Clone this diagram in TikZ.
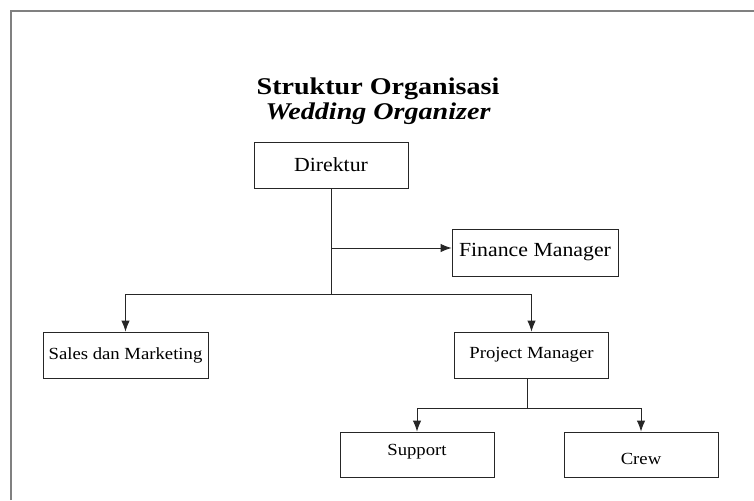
\documentclass[tikz,border=0pt]{standalone}
\usepackage{fontspec}
\setmainfont{Liberation Serif}
\usetikzlibrary{arrows.meta}
\tikzset{
  box/.style={draw=black!85, line width=0.8pt, inner sep=0pt, minimum width=154pt, minimum height=46pt, font=\fontsize{17}{19}\selectfont},
  big/.style={font=\fontsize{20}{22}\selectfont},
  every label/.style={font=\fontsize{17}{19}\selectfont, inner sep=0pt},
  link/.style={draw=black!85, line width=0.9pt},
  arr/.style={link, -{Latex[length=11pt,width=8.5pt]}}
}
\newcommand{\wide}[1]{\scalebox{1.1}[1]{#1}}

\begin{document}
\begin{tikzpicture}[x=1pt,y=-1pt]
\useasboundingbox (0,0) rectangle (754,500);
% frame
\draw[gray, line width=1.6pt] (11,500) -- (11,11) -- (754,11);
% title
\node[align=center, font=\fontsize{24}{25}\selectfont\bfseries] (title) at (378,101) {\scalebox{1.17}[1]{Struktur Organisasi}\\ \scalebox{1.17}[1]{\itshape Wedding Organizer}};
% boxes
\node[box, big] (dir) at (331,165) {\scalebox{1.09}[1]{Direktur}};
\node[box, big, minimum width=166pt, minimum height=47pt] (fin) at (535,252.5) {\scalebox{1.09}[1]{Finance Manager}};
\node[box, minimum width=165pt] (sales) at (125.5,355) {\wide{Sales dan Marketing}};
\node[box] (pm) at (531.5,355) {\wide{Project Manager}};
\node[box, minimum height=45pt, label={[yshift=2.5pt]center:\wide{Support}}] (sup) at (417,454.5) {};
\node[box, minimum height=45pt, label={[yshift=-4pt]center:\wide{Crew}}] (crew) at (641,454.5) {};
% connectors
\coordinate (tap) at (331,248);
\coordinate (fork) at (331,294);
\coordinate (pmfork) at (527,408);
\draw[link] (dir.south) -- (fork);
\draw[arr] (tap) -- (tap -| fin.west);
\draw[arr] (fork) -| (sales.north);
\draw[arr] (fork) -| (pm.north);
\draw[link] (pm.south -| pmfork) -- (pmfork);
\draw[arr] (pmfork) -| (sup.north);
\draw[arr] (pmfork) -| (crew.north);
\end{tikzpicture}
\end{document}
